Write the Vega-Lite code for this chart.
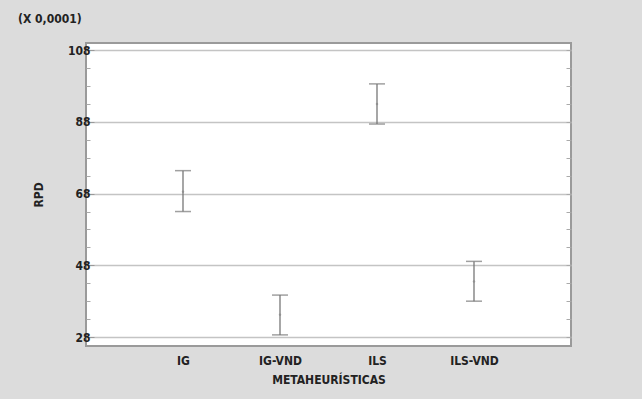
{
  "$schema": "https://vega.github.io/schema/vega-lite/v6.json",
  "width": 485,
  "height": 303,
  "autosize": {"type": "none"},
  "padding": {"left": 86, "top": 43, "right": 71, "bottom": 53},
  "background": "#dcdcdc",
  "title": {
    "text": "(X 0,0001)",
    "anchor": "start",
    "frame": "group",
    "dx": -68,
    "offset": 17,
    "font": "Liberation Sans Narrow, DejaVu Sans Condensed, Liberation Sans, sans-serif",
    "fontSize": 12,
    "fontWeight": "bold",
    "color": "#222222"
  },
  "config": {
    "view": {"stroke": "#9a9a9a", "strokeWidth": 2, "fill": "#ffffff"},
    "axis": {
      "labelFont": "Liberation Sans Narrow, DejaVu Sans Condensed, Liberation Sans, sans-serif",
      "titleFont": "Liberation Sans Narrow, DejaVu Sans Condensed, Liberation Sans, sans-serif",
      "labelFontWeight": "bold",
      "titleFontWeight": "bold",
      "labelColor": "#222222",
      "titleColor": "#222222",
      "labelFontSize": 12,
      "titleFontSize": 12
    }
  },
  "data": {
    "values": [
      {"metodo": "IG", "lo": 63.0, "hi": 74.4, "media": 68.5},
      {"metodo": "IG-VND", "lo": 28.6, "hi": 39.7, "media": 34.2},
      {"metodo": "ILS", "lo": 87.4, "hi": 98.6, "media": 93.0},
      {"metodo": "ILS-VND", "lo": 38.0, "hi": 49.1, "media": 43.5}
    ]
  },
  "encoding": {
    "x": {
      "field": "metodo",
      "type": "nominal",
      "sort": ["IG", "IG-VND", "ILS", "ILS-VND"],
      "scale": {"type": "point", "padding": 1.14},
      "axis": {
        "title": "METAHEURÍSTICAS",
        "labelAngle": 0,
        "ticks": false,
        "domain": false,
        "labelPadding": 9,
        "titlePadding": 8
      }
    }
  },
  "layer": [
    {
      "mark": {"type": "rule", "color": "#ffffff", "opacity": 0},
      "encoding": {
        "y": {
          "field": "media",
          "type": "quantitative",
          "scale": {"domain": [25.5, 110], "nice": false, "zero": false},
          "axis": {
            "title": "RPD",
            "titlePadding": 22,
            "values": [28, 48, 68, 88, 108],
            "grid": true,
            "gridColor": "#c4c4c4",
            "gridWidth": 1.5,
            "domain": false,
            "tickSize": -8,
            "tickColor": "#999999",
            "labelPadding": 4
          }
        }
      }
    },
    {
      "mark": {"type": "rule", "color": "#ffffff", "opacity": 0},
      "encoding": {
        "y": {
          "field": "media",
          "type": "quantitative",
          "axis": {
            "title": null,
            "orient": "left",
            "values": [33, 38, 43, 53, 58, 63, 73, 78, 83, 93, 98, 103],
            "labels": false,
            "grid": false,
            "domain": false,
            "tickSize": -4,
            "tickColor": "#aaaaaa"
          }
        }
      }
    },
    {
      "mark": {"type": "rule", "color": "#ffffff", "opacity": 0},
      "encoding": {
        "y": {
          "field": "media",
          "type": "quantitative",
          "axis": {
            "title": null,
            "orient": "right",
            "values": [28, 33, 38, 43, 48, 53, 58, 63, 68, 73, 78, 83, 88, 93, 98, 103, 108],
            "labels": false,
            "grid": false,
            "domain": false,
            "tickSize": -5,
            "tickColor": "#aaaaaa"
          }
        }
      }
    },
    {
      "mark": {"type": "rule", "color": "#777777", "strokeWidth": 1.3},
      "encoding": {
        "y": {"field": "lo", "type": "quantitative", "axis": null},
        "y2": {"field": "hi"}
      }
    },
    {
      "mark": {"type": "tick", "color": "#777777", "size": 16, "thickness": 1.5},
      "encoding": {"y": {"field": "lo", "type": "quantitative", "axis": null}}
    },
    {
      "mark": {"type": "tick", "color": "#777777", "size": 16, "thickness": 1.5},
      "encoding": {"y": {"field": "hi", "type": "quantitative", "axis": null}}
    },
    {
      "mark": {"type": "point", "color": "#888888", "filled": true, "size": 6},
      "encoding": {"y": {"field": "media", "type": "quantitative", "axis": null}}
    }
  ],
  "resolve": {"axis": {"y": "independent"}}
}
